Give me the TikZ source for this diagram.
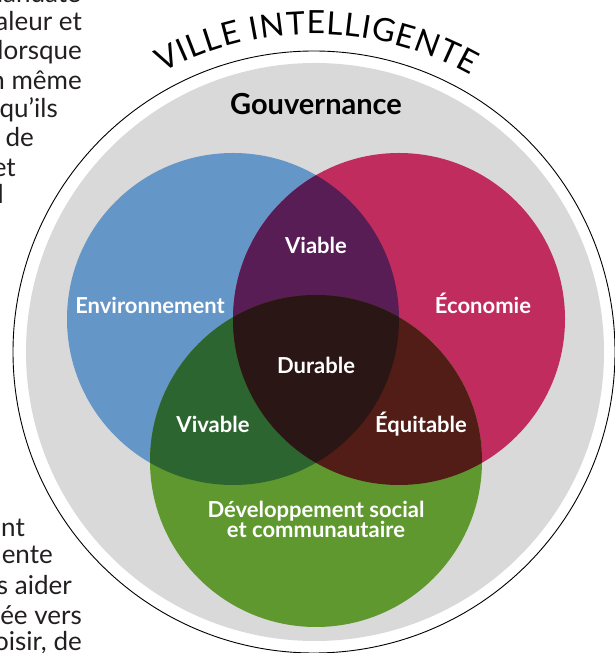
\documentclass[tikz,border=0pt]{standalone}
\usepackage{fontspec}
\setmainfont{Lato}
\usepackage{xcolor}
\usetikzlibrary{decorations.text}

\definecolor{govgrey}{HTML}{D9D9D9}
\definecolor{envblue}{HTML}{6596C8}
\definecolor{ecored}{HTML}{C02C5E}
\definecolor{socgreen}{HTML}{5F982E}
\definecolor{viablepurple}{HTML}{591D56}
\definecolor{vivablegreen}{HTML}{2D6530}
\definecolor{equitablebrown}{HTML}{521D16}
\definecolor{durabledark}{HTML}{2A1614}
\definecolor{pagetext}{HTML}{231F20}

\newcommand{\envcircle}{(233,334) circle[radius=166]}
\newcommand{\ecocircle}{(399,334) circle[radius=166]}
\newcommand{\soccircle}{(316,192) circle[radius=166]}
\newcommand{\titlefont}{\fontsize{32}{36}\selectfont}

\begin{document}
\begin{tikzpicture}[
  x=1pt, y=1pt,
  region/.style={
    anchor=base,
    inner sep=0pt,
    align=center,
    text=white,
    font=\fontsize{22}{18}\selectfont\bfseries
  },
  govlabel/.style={
    anchor=base,
    inner sep=0pt,
    text=black,
    font=\fontsize{29}{30}\selectfont\bfseries
  },
  frag/.style={
    anchor=base east,
    inner sep=0pt,
    text=pagetext,
    font=\fontsize{26}{30}\selectfont
  }
]
\clip (0,0) rectangle (615,653);

% governance ring
\fill[govgrey] (315,301) circle[radius=289];
\draw[line width=0.9pt] (314,301) circle[radius=301];
\path[decorate, decoration={text along path,
    text={|\titlefont|VILLE INTELLIGENTE}, text align=fit to path}]
  (314,301) ++(118.5:318) arc[start angle=118.5, end angle=60.5, radius=318];

% the three circles and their overlaps
\fill[envblue] \envcircle;
\fill[ecored] \ecocircle;
\fill[socgreen] \soccircle;
\begin{scope}
  \clip \envcircle;
  \fill[viablepurple] \ecocircle;
\end{scope}
\begin{scope}
  \clip \envcircle;
  \fill[vivablegreen] \soccircle;
\end{scope}
\begin{scope}
  \clip \ecocircle;
  \fill[equitablebrown] \soccircle;
\end{scope}
\begin{scope}
  \clip \envcircle;
  \clip \ecocircle;
  \fill[durabledark] \soccircle;
\end{scope}

\node[govlabel] (gov) at (316,538) {Gouvernance};
\node[region] (env) at (150,339) {Environnement};
\node[region] (eco) at (483,339) {Économie};
\node[region] (viable) at (316,399) {Viable};
\node[region] (durable) at (316,279) {Durable};
\node[region] (vivable) at (213,220) {Vivable};
\node[region] (equitable) at (421,220) {Équitable};
\node[region] (soc) at (316,115) {Développement social\\et communautaire};

% page text running round the figure
\node[frag] (p1) at (81,650) {mandate};
\node[frag] (p2) at (82,622) {valeur et};
\node[frag] (p3) at (82,593) {lorsque};
\node[frag] (p4) at (82,563) {un même};
\node[frag] (p5) at (58,535) {qu’ils};
\node[frag] (p6) at (34,506) {afin de};
\node[frag] (p7) at (16,476) {et};
\node[frag] (p8) at (4,449) {l};
\node[frag] (p9) at (25,116) {ent};
\node[frag] (p10) at (53,89) {ente};
\node[frag] (p11) at (72,58) {s aider};
\node[frag] (p12) at (82,28) {donnée vers};
\node[frag] (p13) at (82,2) {choisir, de};
\end{tikzpicture}
\end{document}
